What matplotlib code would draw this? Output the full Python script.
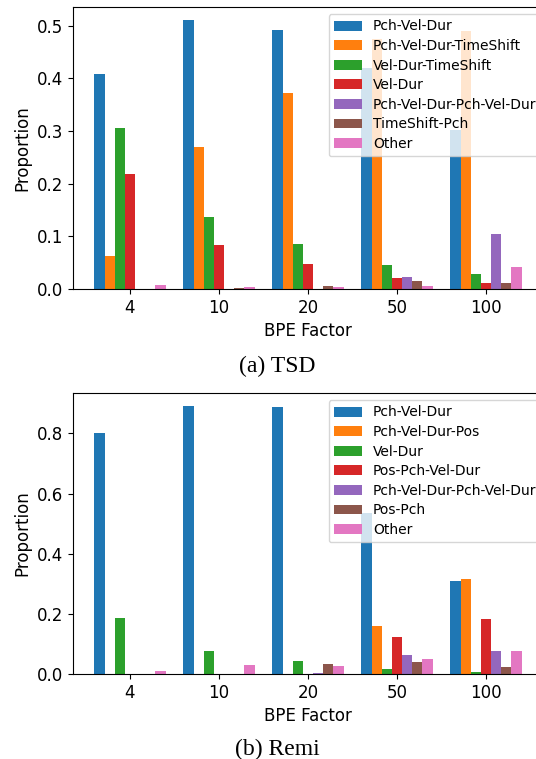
import matplotlib.pyplot as plt
import numpy as np

# ── Data ─────────────────────────────────────────────────────────────
BPE_FACTORS = ["4", "10", "20", "50", "100"]

TSD_LABELS = ["Pch-Vel-Dur", "Pch-Vel-Dur-TimeShift", "Vel-Dur-TimeShift", "Vel-Dur",
              "Pch-Vel-Dur-Pch-Vel-Dur", "TimeShift-Pch", "Other"]
TSD_PCH_VEL_DUR = [0.409, 0.510, 0.492, 0.420, 0.302]
TSD_PCH_VEL_DUR_TS = [0.063, 0.270, 0.372, 0.475, 0.490]
TSD_VEL_DUR_TS = [0.306, 0.137, 0.086, 0.046, 0.029]
TSD_VEL_DUR = [0.219, 0.084, 0.048, 0.021, 0.011]
TSD_PVD_PVD = [0.0, 0.0, 0.0, 0.023, 0.105]
TSD_TS_PCH = [0.0, 0.002, 0.006, 0.015, 0.011]
TSD_OTHER = [0.008, 0.004, 0.003, 0.006, 0.042]

REMI_LABELS = ["Pch-Vel-Dur", "Pch-Vel-Dur-Pos", "Vel-Dur", "Pos-Pch-Vel-Dur",
               "Pch-Vel-Dur-Pch-Vel-Dur", "Pos-Pch", "Other"]
REMI_PCH_VEL_DUR = [0.800, 0.890, 0.887, 0.537, 0.310]
REMI_PCH_VEL_DUR_POS = [0.0, 0.0, 0.0, 0.160, 0.317]
REMI_VEL_DUR = [0.187, 0.077, 0.043, 0.017, 0.007]
REMI_POS_PCH_VEL_DUR = [0.0, 0.0, 0.0, 0.123, 0.183]
REMI_PVD_PVD = [0.0, 0.0, 0.003, 0.063, 0.077]
REMI_POS_PCH = [0.0, 0.0, 0.033, 0.040, 0.023]
REMI_OTHER = [0.010, 0.030, 0.027, 0.050, 0.077]

plt.rcParams["font.size"] = 12
plt.rcParams["legend.fontsize"] = 10


def draw_panel(ax, labels, series):
    x = np.arange(len(BPE_FACTORS))
    n = len(series)
    w = 0.8 / n
    for i, (lab, vals) in enumerate(zip(labels, series)):
        ax.bar(x + (i - (n - 1) / 2) * w, vals, width=w, label=lab)
    ax.set_xticks(x)
    ax.set_xticklabels(BPE_FACTORS)
    ax.set_xlabel("BPE Factor")
    ax.set_ylabel("Proportion")
    # legend sits a little past the (cropped) right edge, as in the original
    ax.legend(loc="upper right", bbox_to_anchor=(1.013, 1.0), labelspacing=0.4)


W, H = 536, 759
fig = plt.figure(figsize=(W / 100, H / 100), dpi=100)

# axes run past the right edge of the figure
ax1 = fig.add_axes([73 / W, 1 - 289 / H, 470 / W, 282 / H])
draw_panel(ax1, TSD_LABELS, [TSD_PCH_VEL_DUR, TSD_PCH_VEL_DUR_TS, TSD_VEL_DUR_TS, TSD_VEL_DUR,
                             TSD_PVD_PVD, TSD_TS_PCH, TSD_OTHER])

ax2 = fig.add_axes([73 / W, 1 - 674 / H, 470 / W, 281 / H])
draw_panel(ax2, REMI_LABELS, [REMI_PCH_VEL_DUR, REMI_PCH_VEL_DUR_POS, REMI_VEL_DUR,
                              REMI_POS_PCH_VEL_DUR, REMI_PVD_PVD, REMI_POS_PCH, REMI_OTHER])

cap = dict(ha="center", va="baseline", fontsize=17, family=["Liberation Serif", "DejaVu Serif"])
fig.text(277 / W, 1 - 372 / H, "(a) TSD", **cap)
fig.text(277 / W, 1 - 755 / H, "(b) Remi", **cap)

fig.savefig("out.png", dpi=100)
